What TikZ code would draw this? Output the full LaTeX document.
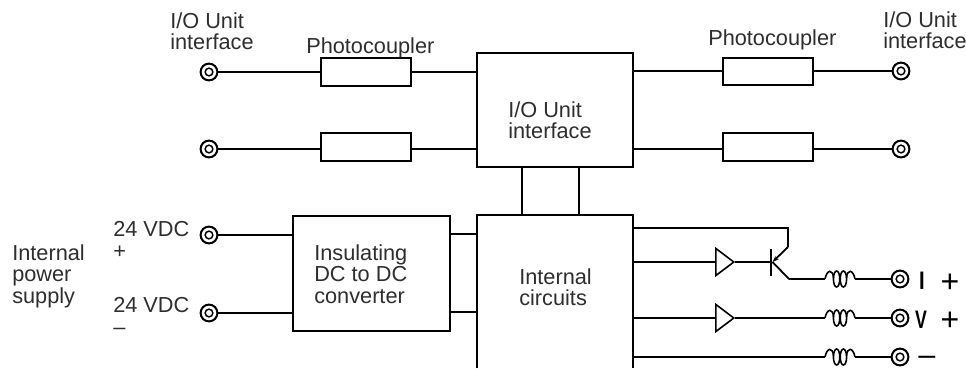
\documentclass[tikz,border=0pt]{standalone}
\usepackage{fontspec}
\setmainfont{Liberation Sans}
\usetikzlibrary{shapes.geometric,arrows.meta}
\definecolor{txt}{HTML}{2E2E2E}
\tikzset{x=0.75pt,y=-0.75pt,
 wire/.style={line width=1.35pt},
 box/.style={draw,line width=1.5pt,inner sep=0},
 photo/.style={box,minimum width=67.5pt,minimum height=20.5pt},
 term/.style={circle,draw,line width=1.5pt,minimum size=12.6pt,inner sep=0,path picture={\draw[line width=1.1pt] (path picture bounding box.center) circle[radius=2.9pt];}},
 lab/.style={inner sep=0,align=left,anchor=north west,text=txt,font=\fontsize{16.3}{16.2}\selectfont},
 sym/.style={inner sep=0,text=black,font=\fontsize{24}{24}\selectfont},
 symb/.style={inner sep=0,text=black,font=\fontsize{19}{19}\selectfont\bfseries},
 amp/.style={draw,line width=1.2pt,isosceles triangle,isosceles triangle apex angle=74,minimum height=13.5pt,minimum width=20pt,inner sep=0,anchor=lower side}}
\newcommand{\coilat}[3]{%
 \coordinate (#1-l) at (#2-15,#3);
 \coordinate (#1-r) at (#2+15,#3);
 \draw[line width=1.2pt] (#1-l) .. controls (#2-13,#3-10) and (#2-7,#3-10) .. (#2-6.5,#3-1);
 \draw[line width=1.2pt] (#1-r) .. controls (#2+13,#3-10) and (#2+7,#3-10) .. (#2+6.5,#3-1);
 \draw[line width=1.2pt] (#2-3.4,#3) ellipse[x radius=3.2,y radius=8];
 \draw[line width=1.2pt] (#2+3.4,#3) ellipse[x radius=3.2,y radius=8];}
\begin{document}
\begin{tikzpicture}
\useasboundingbox (0,0) rectangle (966,368);
% boxes
\node[box,minimum width=117pt,minimum height=85pt] (io) at (555,110) {};
\node[lab] (iot) at (508,101) {I/O Unit\\interface};
\node[box,minimum width=117.75pt,minimum height=86.25pt] (ins) at (371.5,273.5) {};
\node[lab] (inst) at (314,244) {Insulating\\DC to DC\\converter};
\node[minimum width=117pt,minimum height=114.75pt,inner sep=0] (ic) at (555,291.5) {};
\draw[line width=1.5pt] (ic.south west) -- (ic.north west) -- (ic.north east) -- (ic.south east);
\node[lab] (ict) at (519,268) {Internal\\circuits};
\node[photo] (p1) at (366,72) {};
\node[photo] (p2) at (366,147) {};
\node[photo] (p3) at (767.5,71.5) {};
\node[photo] (p4) at (767.5,147) {};
% terminals
\node[term] (t1) at (209,72) {};
\node[term] (t2) at (209,149) {};
\node[term] (t3) at (209,235) {};
\node[term] (t4) at (209,313) {};
\node[term] (t5) at (901,71) {};
\node[term] (t6) at (901,149) {};
\node[term] (t7) at (900,279) {};
\node[term] (t8) at (900,318) {};
\node[term] (t9) at (900,357) {};
% labels
\node[lab] (l1) at (170,12) {I/O Unit\\interface};
\node[lab] (l2) at (306,37) {Photocoupler};
\node[lab] (l3) at (708,29) {Photocoupler};
\node[lab] (l4) at (883,11) {I/O Unit\\interface};
\node[lab] (l5) at (12,244) {Internal\\power\\supply};
\node[lab] (l6) at (113,221.5) {24 VDC\\+};
\node[lab] (l7) at (113,297.5) {24 VDC\\–};
\node[symb,xscale=0.8] (s1) at (922,281) {I};
\node[sym] (s2) at (950,283) {+};
\node[symb,xscale=0.7] (s3) at (921,320) {V};
\node[sym] (s4) at (950,321) {+};
\node[inner sep=0,text=black,font=\fontsize{14}{14}\selectfont\bfseries,xscale=1.8] (s5) at (927,360) {−};
% wires
\draw[wire] (t1) -- (t1 -| p1.west);
\draw[wire] (t2) -- (t2 -| p2.west);
\draw[wire] (t1 -| p1.east) -- (t1 -| io.west);
\draw[wire] (t2 -| p2.east) -- (t2 -| io.west);
\draw[wire] (t5 -| io.east) -- (t5 -| p3.west);
\draw[wire] (t6 -| io.east) -- (t6 -| p4.west);
\draw[wire] (t5 -| p3.east) -- (t5);
\draw[wire] (t6 -| p4.east) -- (t6);
\draw[wire] (t3) -- (t3 -| ins.west);
\draw[wire] (t4) -- (t4 -| ins.west);
\coordinate (j1) at (450,234); \coordinate (j2) at (450,312);
\draw[wire] (ins.east |- j1) -- (ic.west |- j1);
\draw[wire] (ins.east |- j2) -- (ic.west |- j2);
\coordinate (v1) at (522,191); \coordinate (v2) at (579,191);
\draw[wire] (io.south -| v1) -- (ic.north -| v1);
\draw[wire] (io.south -| v2) -- (ic.north -| v2);
% output stage
\node[amp] (a1) at (715,262) {};
\node[amp] (a2) at (715,318) {};
\coordinate (tb) at (771,262);
\coordinate (tbt) at (771,249);
\coordinate (tbb) at (771,276);
\coordinate (tcc) at (788,228);
\coordinate (tc) at (788,247);
\coordinate (tj) at (772.5,262);
\coordinate (te) at (789,279);
\draw[line width=1.4pt] (tbt) -- (tbb);
\draw[wire] (ic.east |- tcc) -- (tcc) -- (tc);
\draw[wire,-{Stealth[length=5pt,width=3.5pt]}] (tc) -- (tj);
\draw[wire] (tj) -- (te);
\draw[wire] (ic.east |- tb) -- (a1.lower side);
\draw[wire] (a1.apex) -- (tb);
\draw[wire] (ic.east |- a2.lower side) -- (a2.lower side);
\coilat{c1}{840}{279}
\coilat{c2}{840}{318}
\coilat{c3}{840}{357}
\draw[wire] (te) -- (c1-l);
\draw[wire] (c1-r) -- (t7);
\draw[wire] (a2.apex) -- (c2-l);
\draw[wire] (c2-r) -- (t8);
\draw[wire] (ic.east |- c3-l) -- (c3-l);
\draw[wire] (c3-r) -- (t9);
\end{tikzpicture}
\end{document}
